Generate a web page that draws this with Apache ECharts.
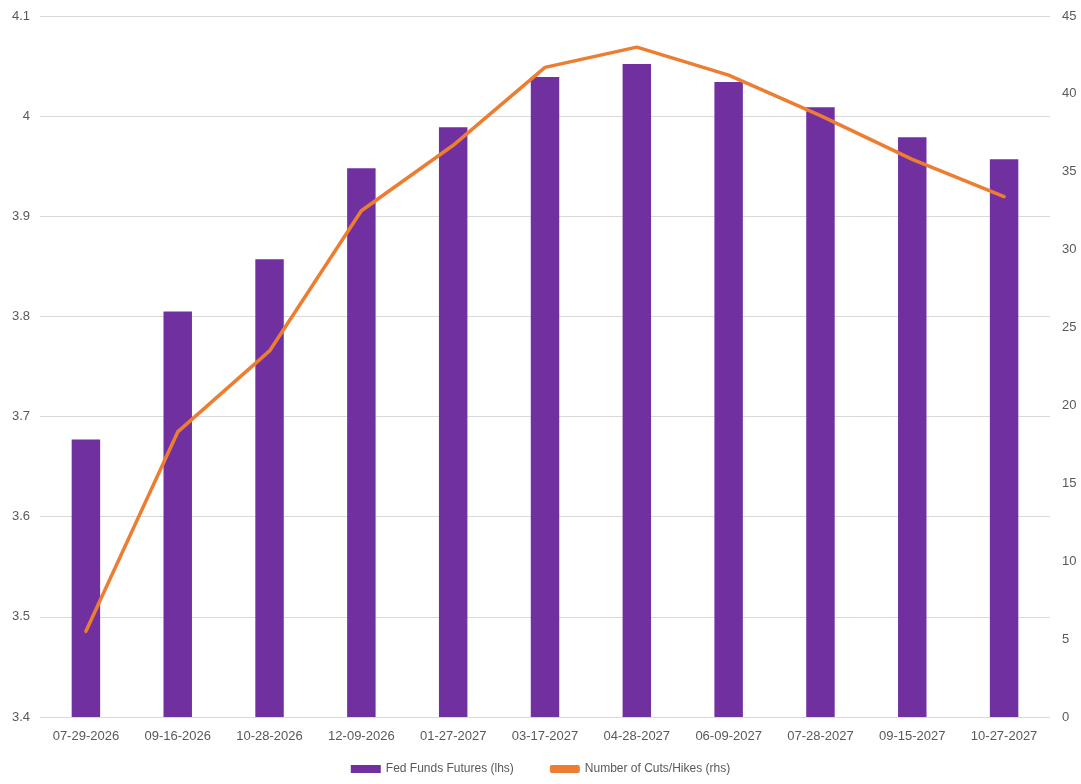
<!DOCTYPE html>
<html>
<head>
<meta charset="utf-8">
<script src="https://cdn.jsdelivr.net/npm/echarts@6/dist/echarts.min.js"></script>
<style>
html,body{margin:0;padding:0;background:#fff;}
#myCanvas{width:1081px;height:784px;}
</style>
</head>
<body>
<div id="myCanvas"></div>
<script>
var dates = ['07-29-2026','09-16-2026','10-28-2026','12-09-2026','01-27-2027','03-17-2027','04-28-2027','06-09-2027','07-28-2027','09-15-2027','10-27-2027'];
var futures = [3.677, 3.805, 3.857, 3.948, 3.989, 4.039, 4.052, 4.034, 4.009, 3.979, 3.957];
var cutsHikes = [5.5, 18.3, 23.5, 32.5, 36.7, 41.7, 43.0, 41.2, 38.6, 35.8, 33.4];

var myChart = echarts.init(document.getElementById('myCanvas'));
var labelFont = {color: '#595959', fontSize: 13, fontFamily: 'Liberation Sans, Arial, sans-serif'};
var option = {
    animation: false,
    legend: {
        bottom: 4,
        itemGap: 36,
        itemWidth: 30,
        itemHeight: 8,
        textStyle: {color: '#595959', fontSize: 12, fontFamily: 'Liberation Sans, Arial, sans-serif'},
        data: [
            {name: 'Fed Funds Futures (lhs)', icon: 'rect'},
            {name: 'Number of Cuts/Hikes (rhs)', icon: 'roundRect'}
        ]
    },
    grid: {
        left: 40,
        right: 31,
        top: 16,
        bottom: 67
    },
    xAxis: {
        type: 'category',
        data: dates,
        axisLine: {show: false},
        axisTick: {show: false},
        axisLabel: Object.assign({margin: 13}, labelFont)
    },
    yAxis: [
        {
            type: 'value',
            min: 3.4,
            max: 4.1,
            interval: 0.1,
            axisLabel: Object.assign({margin: 10}, labelFont),
            splitLine: {lineStyle: {color: '#d9d9d9'}}
        },
        {
            type: 'value',
            min: 0,
            max: 45,
            interval: 5,
            axisLabel: Object.assign({margin: 12}, labelFont),
            splitLine: {show: false}
        }
    ],
    series: [
        {
            name: 'Fed Funds Futures (lhs)',
            type: 'bar',
            barWidth: '31%',
            itemStyle: {color: '#7030a0'},
            data: futures
        },
        {
            name: 'Number of Cuts/Hikes (rhs)',
            type: 'line',
            yAxisIndex: 1,
            symbol: 'none',
            color: '#ed7d31',
            lineStyle: {width: 3.5, color: '#ed7d31', cap: 'round', join: 'round'},
            data: cutsHikes
        }
    ]
};
myChart.setOption(option);
</script>
</body>
</html>
